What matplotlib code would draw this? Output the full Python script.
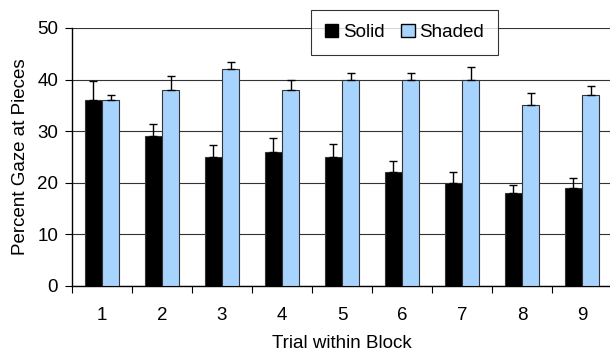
import numpy as np
import matplotlib.pyplot as plt
from matplotlib.patches import Patch

trials = [1, 2, 3, 4, 5, 6, 7, 8, 9]
solid = [36, 29, 25, 26, 25, 22, 20, 18, 19]
solid_err = [3.7, 2.4, 2.3, 2.6, 2.5, 2.2, 2.0, 1.6, 2.0]
shaded = [36, 38, 42, 38, 40, 40, 40, 35, 37]
shaded_err = [1.0, 2.7, 1.5, 1.9, 1.2, 1.2, 2.5, 2.5, 1.8]

plt.rcParams['font.family'] = ['Liberation Sans', 'DejaVu Sans']
plt.rcParams['font.size'] = 13.5

fig = plt.figure(figsize=(6.1, 3.58), dpi=100)
ax = fig.add_axes([72/610, 1-286/358, 540/610, 258/358])

x = np.array(trials)
w = 0.29
blue = '#A6D4FF'
ax.bar(x - w/2, solid, w, color='black', edgecolor='#333333', linewidth=0.8, zorder=3)
ax.bar(x + w/2, shaded, w, color=blue, edgecolor='#333333', linewidth=0.8, zorder=3)
ax.errorbar(x - w/2, solid, yerr=[np.zeros(9), solid_err], fmt='none', ecolor='black',
            elinewidth=1, capsize=2.8, capthick=1, zorder=4)
ax.errorbar(x + w/2, shaded, yerr=[np.zeros(9), shaded_err], fmt='none', ecolor='black',
            elinewidth=1, capsize=2.8, capthick=1, zorder=4)

ax.set_xlim(0.5, 9.5)
ax.set_ylim(0, 50)
ax.set_yticks([0, 10, 20, 30, 40, 50])
ax.yaxis.grid(True, color='#333333', linewidth=0.8, zorder=0)

# category boundaries as tick marks, labels at centres
ax.set_xticks(np.arange(0.5, 10, 1))
ax.set_xticklabels([])
ax.tick_params(axis='x', which='major', length=5, direction='out', color='black')
ax.set_xticks(x, minor=True)
ax.set_xticklabels([str(t) for t in trials], minor=True)
ax.tick_params(axis='x', which='minor', length=0, pad=15)
ax.tick_params(axis='y', length=5, direction='out', pad=5)

for s in ['top', 'right']:
    ax.spines[s].set_visible(False)
ax.spines['left'].set_linewidth(1)
ax.spines['bottom'].set_linewidth(1)

ax.set_ylabel('Percent Gaze at Pieces', labelpad=6)
ax.set_xlabel('Trial within Block', labelpad=8)

handles = [Patch(facecolor='black', edgecolor='black', label='Solid'),
           Patch(facecolor=blue, edgecolor='black', label='Shaded')]
leg = ax.legend(handles=handles, ncol=2, loc='upper left',
                bbox_to_anchor=((311-72)/540, 1+(28-10)/258),
                frameon=True, fancybox=False, edgecolor='black',
                handlelength=0.7, handleheight=0.7, handletextpad=0.25,
                columnspacing=0.9, borderpad=0.75, borderaxespad=0,
                fontsize=13.5)
leg.get_frame().set_linewidth(0.8)
leg.set_zorder(5)

fig.savefig('out.png', dpi=100)
